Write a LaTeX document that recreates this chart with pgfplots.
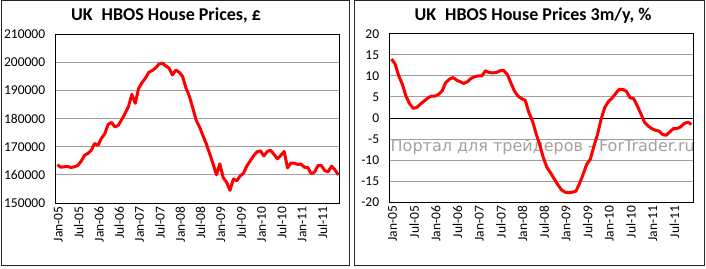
\documentclass[border=0pt]{standalone}
\usepackage{fontspec}
\setmainfont{Carlito}
\newfontfamily\wm{DejaVu Sans}
\usepackage{pgfplots}
\pgfplotsset{compat=1.18}
\definecolor{gridgray}{RGB}{160,160,160}
\definecolor{wmgray}{RGB}{168,158,158}
\definecolor{linered}{RGB}{255,0,0}
\pgfplotsset{
  panel/.style={
    scale only axis,
    anchor=south west,
    xmin=-0.5, xmax=83.5,
    axis line style={line width=1pt, black},
    tick style={draw=none},
    xtick={0,6,...,78},
    xticklabels={Jan-05,Jul-05,Jan-06,Jul-06,Jan-07,Jul-07,Jan-08,Jul-08,Jan-09,Jul-09,Jan-10,Jul-10,Jan-11,Jul-11},
    xticklabel style={rotate=90, anchor=east, yshift=-1pt},
    ymajorgrids,
    grid style={gridgray, line width=1pt},
    tick label style={font=\fontsize{13.5}{15}\selectfont, text=black},
    yticklabel style={xshift=-7pt},
    /pgf/number format/assume math mode=true,
    scaled y ticks=false,
    yticklabel style={/pgf/number format/fixed, /pgf/number format/1000 sep={}},
  }
}
\begin{document}
\begin{tikzpicture}
\path[use as bounding box] (0pt,0pt) rectangle (706pt,268pt);
\draw[line width=1pt, black!85] (1pt,3pt) rectangle (349.5pt,267pt);
\draw[line width=1pt, black!85] (354.5pt,3pt) rectangle (704.5pt,267pt);
\node[font=\fontsize{18}{20}\selectfont\bfseries] at (166pt,252.5pt) {UK\enspace HBOS House Prices, £};
\node[font=\fontsize{18}{20}\selectfont\bfseries] at (533pt,252.5pt) {UK\enspace HBOS House Prices 3m/y, \%};

\begin{axis}[panel, at={(55.7pt,65pt)}, width=284.3pt, height=169pt,
  ymin=150000, ymax=210000, ytick={150000,160000,...,210000}]
\addplot[linered, line width=3pt, line join=round] coordinates {
(0,163570) (1,162700) (2,162850) (3,163000) (4,162600) (5,162850) (6,163300) (7,164800)
(8,166900) (9,167600) (10,168700) (11,171100) (12,170500) (13,172900) (14,174600) (15,177900)
(16,178600) (17,177000) (18,177600) (19,179600) (20,181800) (21,184200) (22,188600) (23,185400)
(24,190700) (25,192700) (26,194300) (27,196400) (28,197000) (29,197900) (30,199300) (31,199600)
(32,198700) (33,197900) (34,195500) (35,197200) (36,196400) (37,194900) (38,190800) (39,187900)
(40,183700) (41,179400) (42,177000) (43,174000) (44,171000) (45,167500) (46,163900) (47,160000)
(48,163900) (49,159000) (50,157300) (51,154500) (52,158500) (53,157900) (54,159600) (55,160600)
(56,163200) (57,165000) (58,166800) (59,168200) (60,168500) (61,166700) (62,168300) (63,168700)
(64,167300) (65,165700) (66,166900) (67,168300) (68,162500) (69,164200) (70,164200) (71,163700)
(72,163800) (73,162700) (74,162600) (75,160400) (76,161000) (77,163300) (78,163300) (79,161500)
(80,161100) (81,163100) (82,161800) (83,160000)
};
\end{axis}

\node[font=\fontsize{16}{18}\selectfont\wm, text=wmgray, anchor=base west, inner sep=0pt] at (390.5pt,117pt) {Портал для трейдеров - ForTrader.ru};

\begin{axis}[panel, at={(389.7pt,65.7pt)}, width=303.6pt, height=168.6pt,
  ymin=-20, ymax=20, ytick={-20,-15,...,20},
  extra y ticks={0}, extra y tick labels={},
  extra y tick style={grid style={black, line width=1pt}}]
\addplot[linered, line width=3pt, line join=round] coordinates {
(0,14.0) (1,12.8) (2,10.0) (3,8.0) (4,5.2) (5,3.4) (6,2.3) (7,2.5)
(8,3.3) (9,4.0) (10,4.7) (11,5.2) (12,5.2) (13,5.6) (14,6.4) (15,8.4)
(16,9.2) (17,9.6) (18,9.0) (19,8.6) (20,8.2) (21,8.6) (22,9.4) (23,9.8)
(24,10.0) (25,10.0) (26,11.2) (27,10.8) (28,10.7) (29,10.8) (30,11.2) (31,11.3)
(32,10.4) (33,8.4) (34,6.4) (35,5.2) (36,4.6) (37,4.2) (38,1.3) (39,-0.7)
(40,-3.7) (41,-6.3) (42,-9.4) (43,-11.7) (44,-13.0) (45,-14.4) (46,-15.8) (47,-17.0)
(48,-17.6) (49,-17.7) (50,-17.6) (51,-17.4) (52,-15.6) (53,-13.4) (54,-11.0) (55,-9.8)
(56,-6.7) (57,-3.9) (58,-0.3) (59,2.5) (60,3.9) (61,4.7) (62,5.8) (63,6.8)
(64,6.8) (65,6.3) (66,4.8) (67,4.6) (68,2.9) (69,1.0) (70,-1.0) (71,-1.9)
(72,-2.5) (73,-2.9) (74,-3.1) (75,-3.9) (76,-4.1) (77,-3.3) (78,-2.5) (79,-2.5)
(80,-2.1) (81,-1.3) (82,-1.0) (83,-1.5)
};
\end{axis}
\end{tikzpicture}
\end{document}
